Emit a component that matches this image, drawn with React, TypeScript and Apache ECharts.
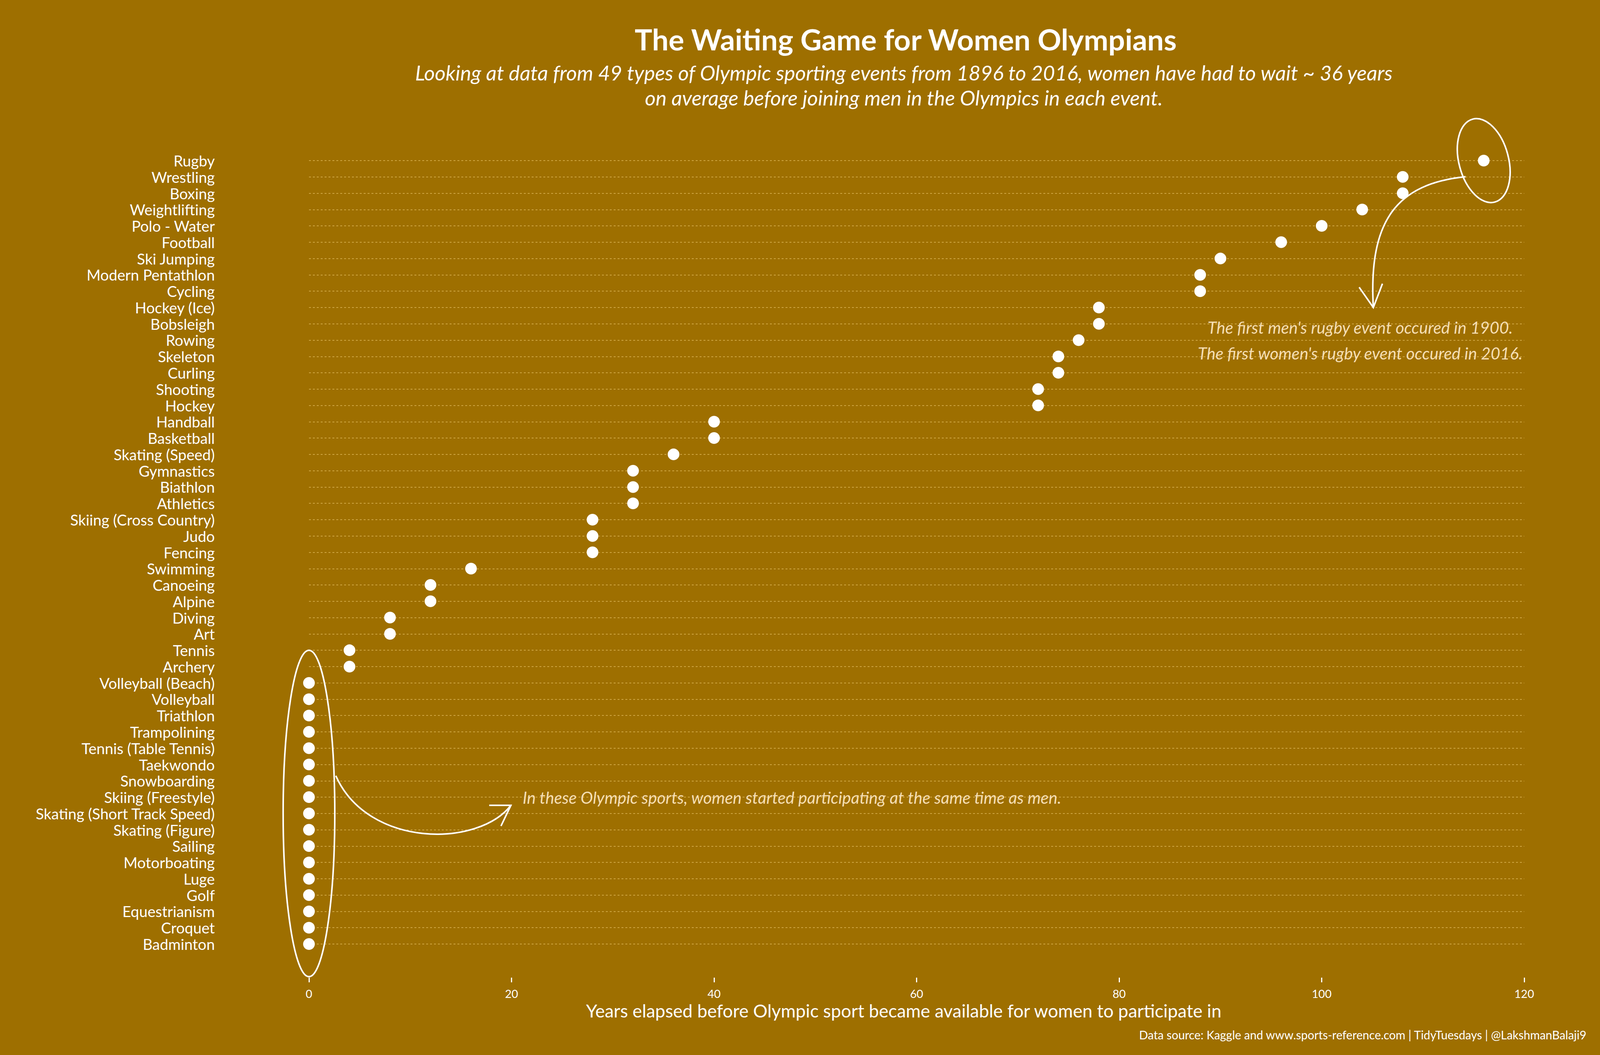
import React, { useEffect, useRef } from 'react';
import * as echarts from 'echarts';

const BG = '#9e6f00';
const WHEAT = '#f5deb3';
const FONT = 'Lato, "Open Sans", sans-serif';

// sports from top to bottom of the chart
const sports = [
  'Rugby', 'Wrestling', 'Boxing', 'Weightlifting', 'Polo - Water', 'Football',
  'Ski Jumping', 'Modern Pentathlon', 'Cycling', 'Hockey (Ice)', 'Bobsleigh',
  'Rowing', 'Skeleton', 'Curling', 'Shooting', 'Hockey', 'Handball', 'Basketball',
  'Skating (Speed)', 'Gymnastics', 'Biathlon', 'Athletics', 'Skiing (Cross Country)',
  'Judo', 'Fencing', 'Swimming', 'Canoeing', 'Alpine', 'Diving', 'Art', 'Tennis',
  'Archery', 'Volleyball (Beach)', 'Volleyball', 'Triathlon', 'Trampolining',
  'Tennis (Table Tennis)', 'Taekwondo', 'Snowboarding', 'Skiing (Freestyle)',
  'Skating (Short Track Speed)', 'Skating (Figure)', 'Sailing', 'Motorboating',
  'Luge', 'Golf', 'Equestrianism', 'Croquet', 'Badminton',
];

// years between the first men's and first women's event
const yearsElapsed = [
  116, 108, 108, 104, 100, 96,
  90, 88, 88, 78, 78,
  76, 74, 74, 72, 72, 40, 40,
  36, 32, 32, 32, 28,
  28, 28, 16, 12, 12, 8, 8, 4,
  4, 0, 0, 0, 0,
  0, 0, 0, 0,
  0, 0, 0, 0,
  0, 0, 0, 0, 0,
];

const xTicks = { min: 0, max: 120, interval: 20 };

const TITLE = 'The Waiting Game for Women Olympians';
const SUBTITLE = [
  'Looking at data from 49 types of Olympic sporting events from 1896 to 2016, women have had to wait ~ 36 years',
  'on average before joining men in the Olympics in each event.',
];
const X_NAME = 'Years elapsed before Olympic sport became available for women to participate in';
const CAPTION = 'Data source: Kaggle and www.sports-reference.com | TidyTuesdays | @LakshmanBalaji9';
const NOTE_SAME = 'In these Olympic sports, women started participating at the same time as men.';
const NOTE_RUGBY = [
  "The first men's rugby event occured in 1900.",
  "The first women's rugby event occured in 2016.",
];

const App: React.FC = () => {
  const chartRef = useRef<HTMLDivElement | null>(null);

  useEffect(() => {
    document.body.style.margin = '0';
    document.body.style.background = BG;
    if (!chartRef.current) return;
    const chart = echarts.init(chartRef.current, undefined, { renderer: 'svg' });
    // layout was measured on a 4350px wide design; the page may be narrower
    const kx = chartRef.current.clientWidth / 4350;

    const option = {
      animation: false,
      backgroundColor: BG,
      textStyle: { fontFamily: FONT },
      title: [
        {
          text: TITLE,
          left: 2457 * kx,
          top: 57,
          textAlign: 'center',
          textStyle: { color: '#fff', fontSize: 75, fontWeight: 'bold', fontFamily: FONT },
        },
        {
          text: SUBTITLE.join('\n'),
          left: 2452 * kx,
          top: 148,
          textAlign: 'center',
          textStyle: {
            color: '#fff', fontSize: 53, fontStyle: 'italic', fontWeight: 'normal',
            lineHeight: 64, fontFamily: FONT,
          },
        },
      ],
      grid: { left: 840 * kx, right: 206 * kx, top: 411, bottom: 284 },
      xAxis: {
        type: 'value',
        ...xTicks,
        offset: 86,
        axisLine: { show: false },
        axisTick: { show: true, length: 12, lineStyle: { color: '#fff', width: 3 } },
        axisLabel: { color: '#fff', fontSize: 29, margin: 26, fontFamily: FONT },
        splitLine: { show: false },
      },
      yAxis: {
        type: 'category',
        data: sports,
        inverse: true,
        boundaryGap: false,
        axisLine: { show: false },
        axisTick: { show: false },
        axisLabel: { color: '#fff', fontSize: 38.5, margin: 256 * kx, interval: 0, fontFamily: FONT },
        splitLine: {
          show: true,
          interval: 0,
          lineStyle: { color: 'rgba(245,210,120,0.75)', width: 1.5, type: [5, 5] },
        },
      },
      series: [
        {
          type: 'scatter',
          data: yearsElapsed.map((v, i) => [v, sports[i]]),
          symbol: 'circle',
          symbolSize: 30,
          itemStyle: { color: '#fff', opacity: 1 },
          silent: true,
          z: 3,
        },
      ],
    };

    chart.setOption(option);

    // map (years, row index) onto the chart through the axes
    const yTop = chart.convertToPixel({ yAxisIndex: 0 }, sports[0]) as number;
    const yBot = chart.convertToPixel({ yAxisIndex: 0 }, sports[sports.length - 1]) as number;
    const sy = (yBot - yTop) / (sports.length - 1);
    const x0 = chart.convertToPixel({ xAxisIndex: 0 }, 0) as number;
    const sx = (chart.convertToPixel({ xAxisIndex: 0 }, 120) as number - x0) / 120;
    const P = (v: number, r: number) => [x0 + v * sx, yTop + r * sy];

    const line = { fill: 'none', stroke: '#fff', lineWidth: 4 };
    const curve = (a: number[], b: number[], c: number[], d: number[]) => {
      const [x1, y1] = P(a[0], a[1]);
      const [cpx1, cpy1] = P(b[0], b[1]);
      const [cpx2, cpy2] = P(c[0], c[1]);
      const [x2, y2] = P(d[0], d[1]);
      return { type: 'bezierCurve', shape: { x1, y1, cpx1, cpy1, cpx2, cpy2, x2, y2 }, style: line, silent: true };
    };
    const head = (pts: number[][]) => ({
      type: 'polyline',
      shape: { points: pts.map((p) => P(p[0], p[1])) },
      style: line,
      silent: true,
    });
    const note = (t: string, v: number, r: number, align: string) => {
      const [x, y] = P(v, r);
      return {
        type: 'text', x, y, silent: true,
        style: {
          text: t, fill: WHEAT, fontSize: 42.5, fontStyle: 'italic', fontFamily: FONT,
          textAlign: align, align, textVerticalAlign: 'middle', verticalAlign: 'middle',
        },
      };
    };

    const [bcx, bcy] = P(0, 40);
    const [tcx, tcy] = P(116, 0);

    chart.setOption({
      graphic: [
        { type: 'ellipse', shape: { cx: bcx, cy: bcy, rx: 2.55 * sx, ry: 10 * sy }, style: line, silent: true },
        {
          type: 'ellipse', x: tcx, y: tcy, rotation: 0.26,
          shape: { cx: 0, cy: 0, rx: 2.45 * sx, ry: 2.63 * sy }, style: line, silent: true,
        },
        curve([114.2, 0.99], [107.5, 1.42], [104.6, 3.6], [105.1, 9.0]),
        head([[103.7, 7.76], [105.1, 9.0], [106.0, 7.54]]),
        curve([2.65, 37.69], [5.8, 42.1], [16.7, 42.1], [19.94, 39.5]),
        head([[17.8, 39.5], [19.94, 39.5], [18.96, 40.77]]),
        note(NOTE_SAME, 21.1, 39, 'left'),
        note(NOTE_RUGBY[0], 103.8, 10.2, 'center'),
        note(NOTE_RUGBY[1], 103.8, 11.8, 'center'),
        {
          type: 'text', x: 2457 * kx, y: 2586, silent: true,
          style: {
            text: X_NAME, fill: '#fff', fontSize: 46, fontFamily: FONT,
            textAlign: 'center', align: 'center', textVerticalAlign: 'middle', verticalAlign: 'middle',
          },
        },
        {
          type: 'text', x: 4313 * kx, y: 2648, silent: true,
          style: {
            text: CAPTION, fill: '#fff', fontSize: 30, fontFamily: FONT,
            textAlign: 'right', align: 'right', textVerticalAlign: 'middle', verticalAlign: 'middle',
          },
        },
      ],
    });

    return () => {
      chart.dispose();
    };
  }, []);

  return <div ref={chartRef} style={{ width: '100vw', height: '100vh' }} />;
};

export default App;
